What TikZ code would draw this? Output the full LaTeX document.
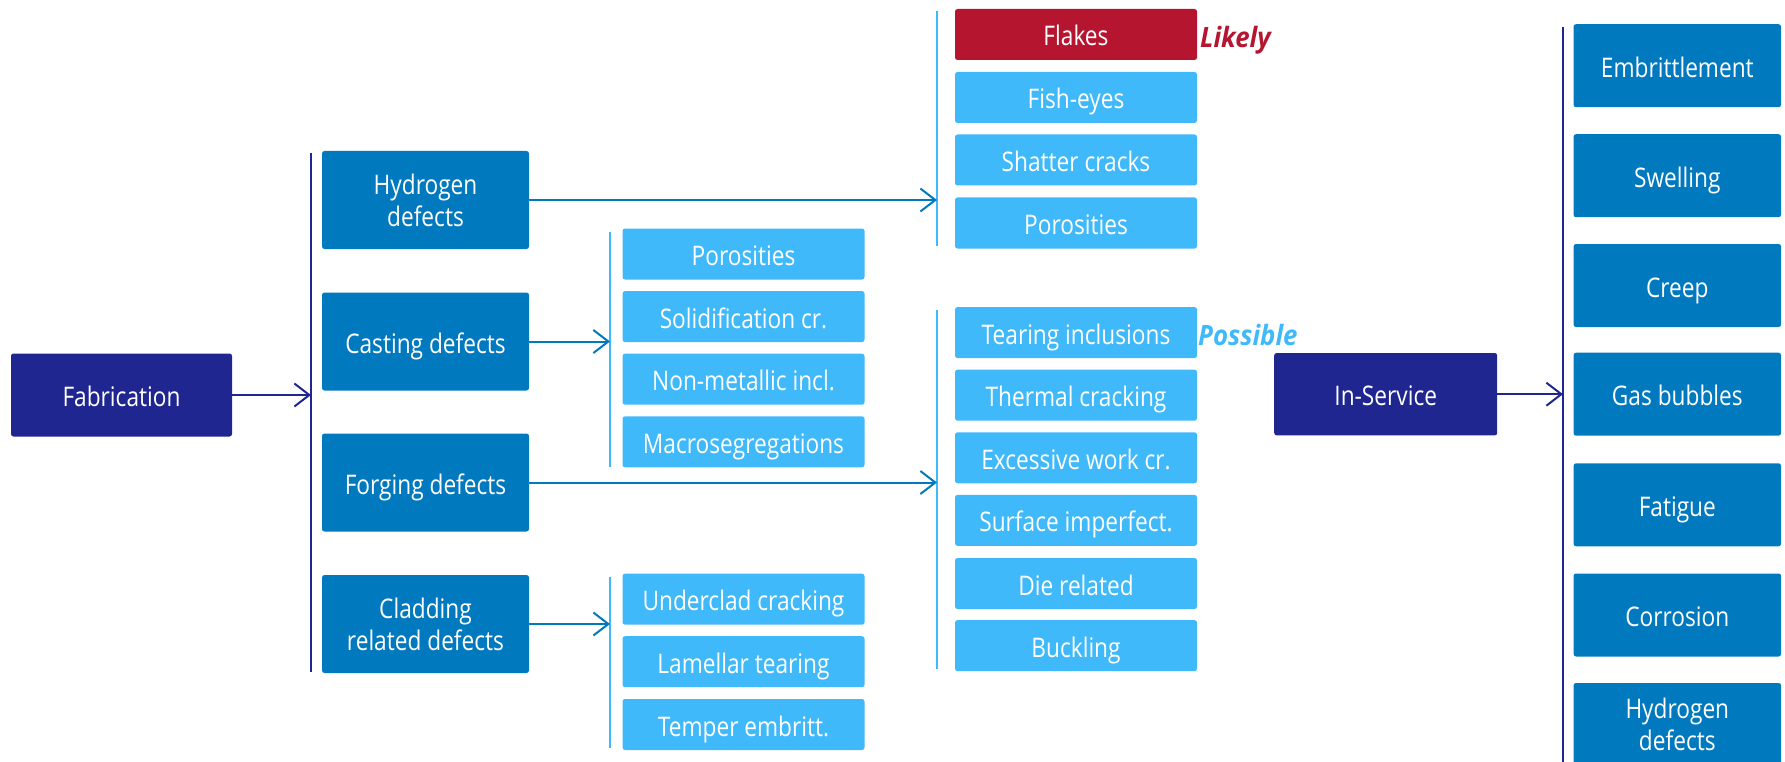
\documentclass[tikz,border=0pt]{standalone}
\usepackage{fontspec}
\setmainfont{Open Sans}[FakeStretch=0.84]
\newfontfamily\lblfont{Open Sans}[FakeStretch=0.92]
\usetikzlibrary{arrows.meta}
\definecolor{navy}{RGB}{31,38,143}
\definecolor{midblue}{RGB}{0,121,191}
\definecolor{lightblue}{RGB}{64,185,250}
\definecolor{flakered}{RGB}{182,21,48}
\begin{document}
\begin{tikzpicture}[x=1pt,y=-1pt,
  box/.style={rectangle, rounded corners=2.5pt, inner sep=0pt, text=white, align=center, text height=25pt, text depth=2pt, font=\fontsize{27}{32}\selectfont},
  twoline/.style={text height=, text depth=},
  navybox/.style={box, fill=navy, minimum width=221pt, minimum height=83pt},
  midbox/.style={box, fill=midblue, minimum width=207pt, minimum height=98pt},
  rightbox/.style={box, fill=midblue, minimum width=207.5pt, minimum height=83pt},
  lightbox/.style={box, fill=lightblue, minimum width=242pt, minimum height=51pt},
  redbox/.style={lightbox, fill=flakered},
  navybus/.style={draw=navy, line width=2.4pt},
  lightbus/.style={draw=lightblue, line width=2pt},
  navyarrow/.style={draw=navy, line width=2pt, -{Straight Barb[length=15pt,width=23pt,line width=2pt]}},
  bluearrow/.style={draw=midblue, line width=2pt, -{Straight Barb[length=15pt,width=23pt,line width=2pt]}},
  tag/.style={inner sep=0pt, anchor=base west, font=\lblfont\bfseries\itshape\fontsize{28}{32}\selectfont}
]
\useasboundingbox (0,0) rectangle (1785,762);

% buses
\coordinate (busAtop) at (311,153);   \coordinate (busAbot) at (311,672);
\coordinate (busBtop) at (610,232);   \coordinate (busBbot) at (610,467);
\coordinate (busB2top) at (610,576.7);\coordinate (busB2bot) at (610,748);
\coordinate (busCtop) at (937,11);    \coordinate (busCbot) at (937,246);
\coordinate (busC2top) at (937,310);  \coordinate (busC2bot) at (937,669);
\coordinate (busDtop) at (1563,26.7); \coordinate (busDbot) at (1563,762);
\draw[navybus] (busAtop) -- (busAbot);
\draw[lightbus] (busBtop) -- (busBbot);
\draw[lightbus] (busB2top) -- (busB2bot);
\draw[lightbus] (busCtop) -- (busCbot);
\draw[lightbus] (busC2top) -- (busC2bot);
\draw[navybus] (busDtop) -- (busDbot);

% main nodes
\node[navybox] (fab) at (121.5,395) {Fabrication};
\node[midbox, twoline] (hyd) at (425.5,200) {Hydrogen\\defects};
\node[midbox] (cast) at (425.5,341.5) {Casting defects};
\node[midbox] (forg) at (425.5,482.5) {Forging defects};
\node[midbox, twoline] (clad) at (425.5,624) {Cladding\\related defects};

% column 3
\node[lightbox] (c3a) at (743.5,254) {Porosities};
\node[lightbox] (c3b) at (743.5,316.6) {Solidification cr.};
\node[lightbox] (c3c) at (743.5,379.2) {Non-metallic incl.};
\node[lightbox] (c3d) at (743.5,441.8) {Macrosegregations};
\node[lightbox] (c3e) at (743.5,599.2) {Underclad cracking};
\node[lightbox] (c3f) at (743.5,661.7) {Lamellar tearing};
\node[lightbox] (c3g) at (743.5,724.5) {Temper embritt.};

% column 4
\node[redbox] (c4a) at (1076,34.5) {Flakes};
\node[lightbox] (c4b) at (1076,97.5) {Fish-eyes};
\node[lightbox] (c4c) at (1076,160) {Shatter cracks};
\node[lightbox] (c4d) at (1076,223) {Porosities};
\node[lightbox] (c4e) at (1076,332.6) {Tearing inclusions};
\node[lightbox] (c4f) at (1076,395.2) {Thermal cracking};
\node[lightbox] (c4g) at (1076,457.8) {Excessive work cr.};
\node[lightbox] (c4h) at (1076,520.4) {Surface imperfect.};
\node[lightbox] (c4i) at (1076,583.5) {Die related};
\node[lightbox] (c4j) at (1076,645.6) {Buckling};

\node[tag, text=flakered] (likely) at (1200,47.5) {Likely};
\node[tag, text=lightblue] (possible) at (1198,345) {Possible};

% in-service
\node[navybox, minimum width=223pt, minimum height=82.4pt] (ins) at (1385.7,394.2) {In-Service};
\node[rightbox] (r1) at (1677.3,65.7) {Embrittlement};
\node[rightbox] (r2) at (1677.3,175.7) {Swelling};
\node[rightbox] (r3) at (1677.3,285.5) {Creep};
\node[rightbox] (r4) at (1677.3,394.2) {Gas bubbles};
\node[rightbox] (r5) at (1677.3,504.8) {Fatigue};
\node[rightbox] (r6) at (1677.3,615) {Corrosion};
\node[rightbox, twoline] (r7) at (1677.3,724.5) {Hydrogen\\defects};

% connectors
\draw[navyarrow] (fab.east) -- (fab.east -| busAtop);
\draw[bluearrow] (hyd.east) -- (hyd.east -| busCtop);
\draw[bluearrow] (cast.east) -- (cast.east -| busBtop);
\draw[bluearrow] (forg.east) -- (forg.east -| busC2top);
\draw[bluearrow] (clad.east) -- (clad.east -| busB2top);
\draw[navyarrow] (ins.east) -- (ins.east -| busDtop);
\end{tikzpicture}
\end{document}
